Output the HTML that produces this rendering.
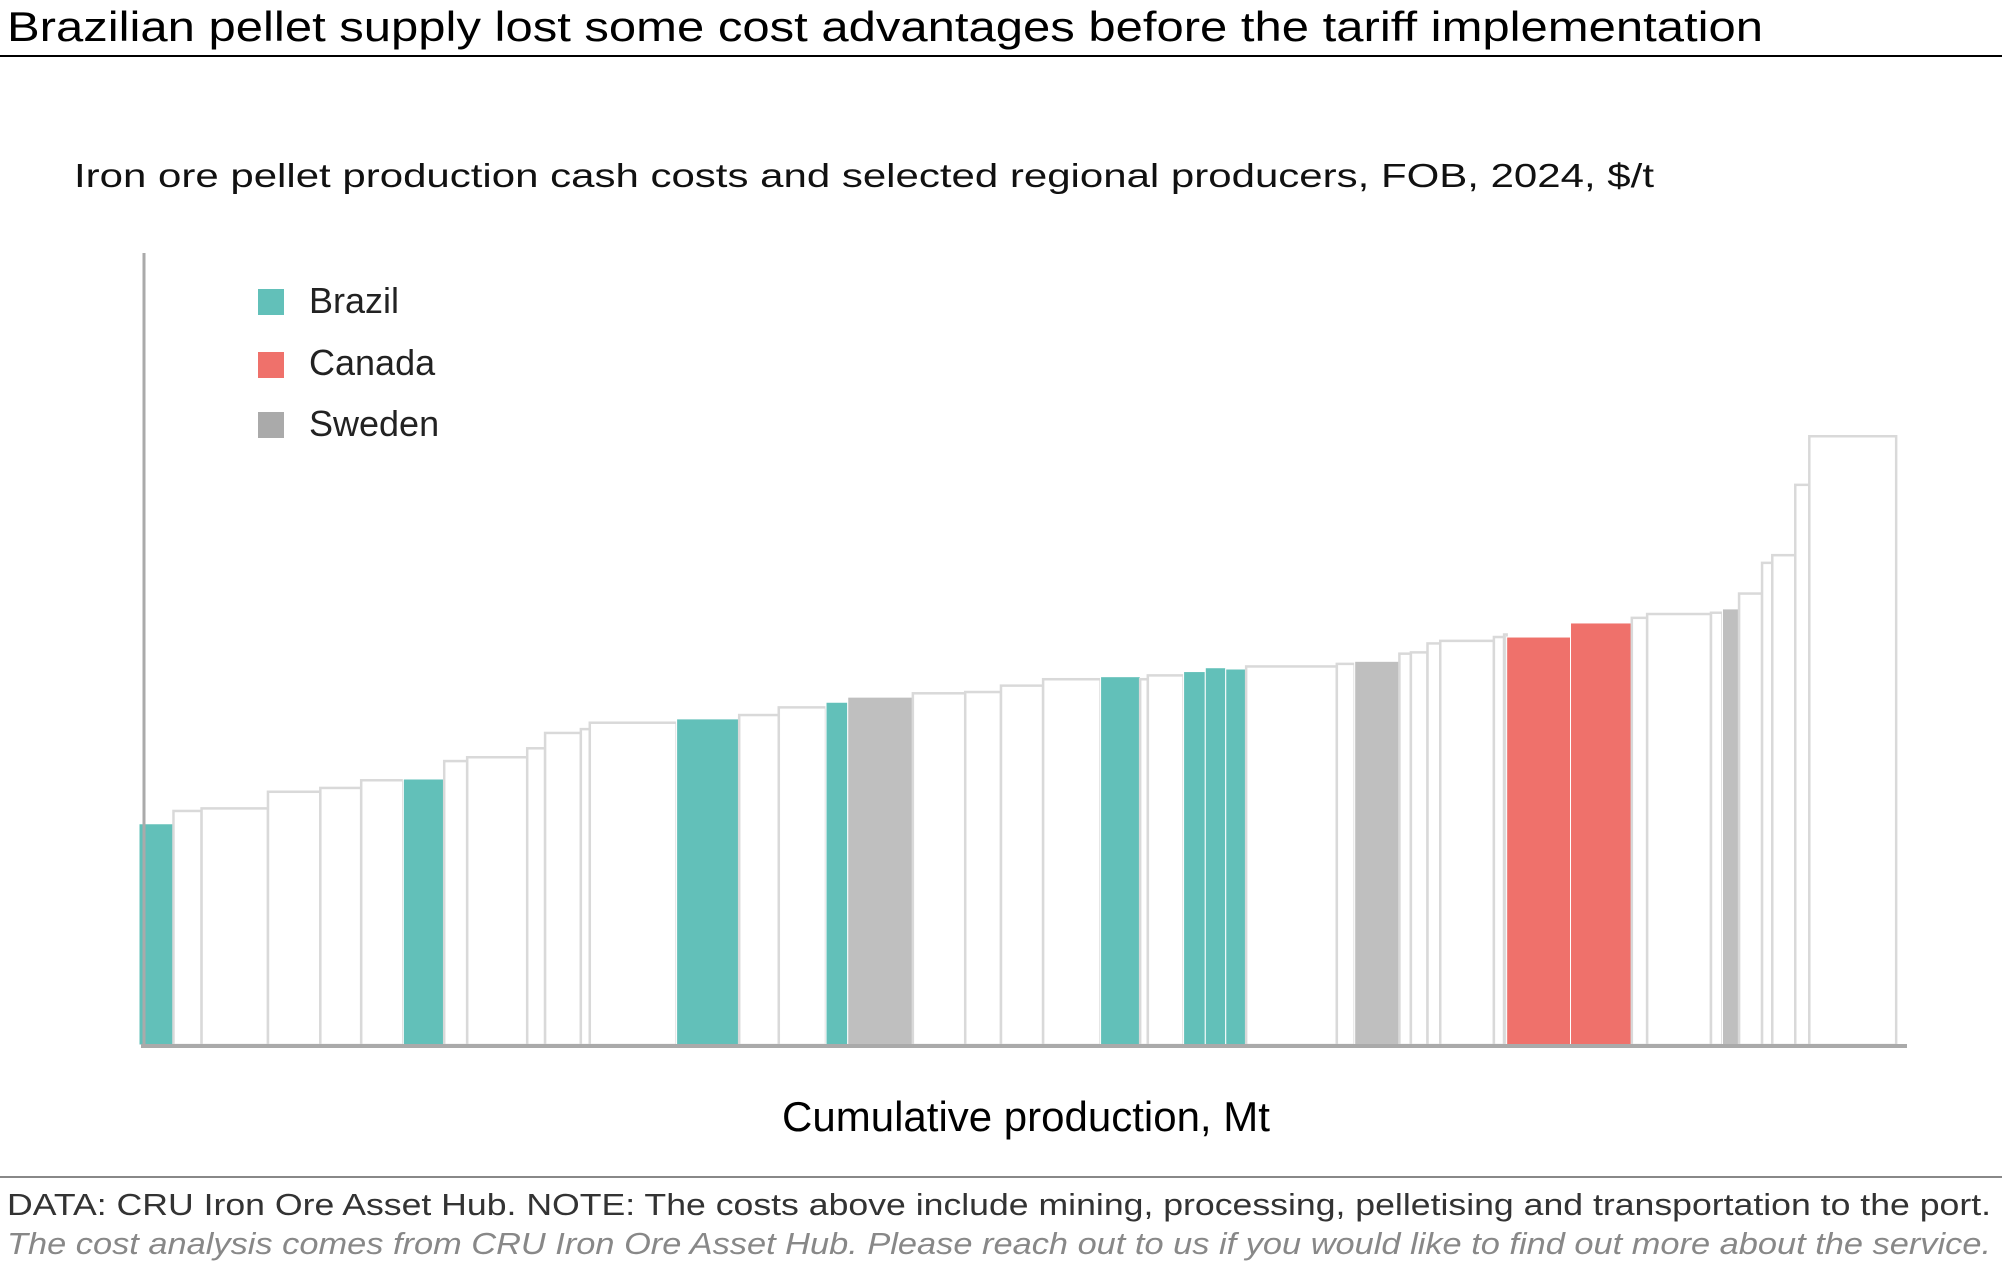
<!DOCTYPE html>
<html><head><meta charset="utf-8"><style>
html,body{margin:0;padding:0;background:#fff;}
svg{display:block;font-family:"Liberation Sans",Arial,sans-serif;}
</style></head><body>
<svg id="chart" width="2002" height="1284" viewBox="0 0 2002 1284" xmlns="http://www.w3.org/2000/svg">
<text x="7" y="41" font-size="42" fill="#000" textLength="1756" lengthAdjust="spacingAndGlyphs">Brazilian pellet supply lost some cost advantages before the tariff implementation</text>
<line x1="0" y1="56" x2="2002" y2="56" stroke="#000" stroke-width="2"/>
<text x="74" y="187" font-size="33" fill="#111" textLength="1580" lengthAdjust="spacingAndGlyphs">Iron ore pellet production cash costs and selected regional producers, FOB, 2024, $/t</text>
<g id="bars"></g>
<line x1="144" y1="253" x2="144" y2="1046" stroke="#aaa" stroke-width="3"/>
<line x1="141" y1="1046" x2="1907" y2="1046" stroke="#aaa" stroke-width="4"/>
<g>
<rect x="258" y="289" width="26" height="26" fill="#62c0b9"/>
<text x="309" y="313" font-size="36" fill="#222">Brazil</text>
<rect x="258" y="352" width="26" height="26" fill="#ef716b"/>
<text x="309" y="375" font-size="36" fill="#222">Canada</text>
<rect x="258" y="412" width="26" height="26" fill="#aaaaaa"/>
<text x="309" y="436" font-size="36" fill="#222">Sweden</text>
</g>
<text x="1026" y="1131" font-size="42" fill="#000" text-anchor="middle">Cumulative production, Mt</text>
<line x1="0" y1="1177" x2="2002" y2="1177" stroke="#888" stroke-width="2"/>
<text x="7" y="1215" font-size="31" fill="#333" textLength="1984" lengthAdjust="spacingAndGlyphs">DATA: CRU Iron Ore Asset Hub. NOTE: The costs above include mining, processing, pelletising and transportation to the port.</text>
<text x="7" y="1254" font-size="31" fill="#888" font-style="italic" textLength="1984" lengthAdjust="spacingAndGlyphs">The cost analysis comes from CRU Iron Ore Asset Hub. Please reach out to us if you would like to find out more about the service.</text>
</svg>
<script>
const capacities = [2.7,2.2,5.2,4.1,3.2,3.3,3.2,1.8,4.7,1.4,2.8,0.7,6.8,4.9,3.1,3.7,1.7,5.1,4.1,2.8,3.3,4.5,3.1,0.6,2.8,1.7,1.6,1.6,7.1,1.4,3.5,0.9,1.3,1.0,4.2,0.8,0.2,5.0,4.8,1.2,5.0,0.9,1.3,1.8,0.8,1.8,1.1,6.8];
const costs = [51.9,54.9,55.5,59.4,60.3,62.1,62.4,66.6,67.5,69.6,73.2,74.1,75.6,76.5,77.4,79.2,80.4,81.6,82.5,82.8,84.3,85.8,86.4,85.8,86.7,87.6,88.5,88.2,88.8,89.4,90.0,91.8,92.1,94.2,94.8,95.7,96.3,95.7,99.0,100.2,101.1,101.4,102.3,105.9,113.1,114.9,131.4,142.8];
const regions = ["BR","","","","","","BR","","","","","","","BR","","","BR","SE","","","","","BR","","","BR","BR","BR","","","SE","","","","","","","CA","CA","","","","SE","","","","",""];
const X0 = 139, BASE = 1045, PX_PER_MT = 12.77, PX_PER_USD = 4.263;
function xScale(mt){ return X0 + mt * PX_PER_MT; }
function yScale(usd){ return BASE - usd * PX_PER_USD; }
const fills = {BR:"#62c0b9", CA:"#ef716b", SE:"#bfbfbf"};
const names = {BR:"brazil", CA:"canada", SE:"sweden"};
const g = document.getElementById("bars");
const NS = "http://www.w3.org/2000/svg";
let cum = 0;
for (let i = 0; i < capacities.length; i++) {
  const x1 = xScale(cum), x2 = xScale(cum + capacities[i]);
  const y = yScale(costs[i]);
  const r = document.createElementNS(NS, "rect");
  r.setAttribute("x", x1); r.setAttribute("y", y);
  r.setAttribute("width", Math.max(0.5, x2 - x1)); r.setAttribute("height", BASE - y);
  const reg = regions[i];
  if (reg) { r.setAttribute("fill", fills[reg]); r.setAttribute("stroke", "#ffffff"); r.setAttribute("stroke-width", "1"); }
  else { r.setAttribute("fill", "#ffffff"); r.setAttribute("stroke", "#d9d9d9"); r.setAttribute("stroke-width", "2.5"); }
  
  
  g.appendChild(r);
  cum += capacities[i];
}
</script>
</body></html>
